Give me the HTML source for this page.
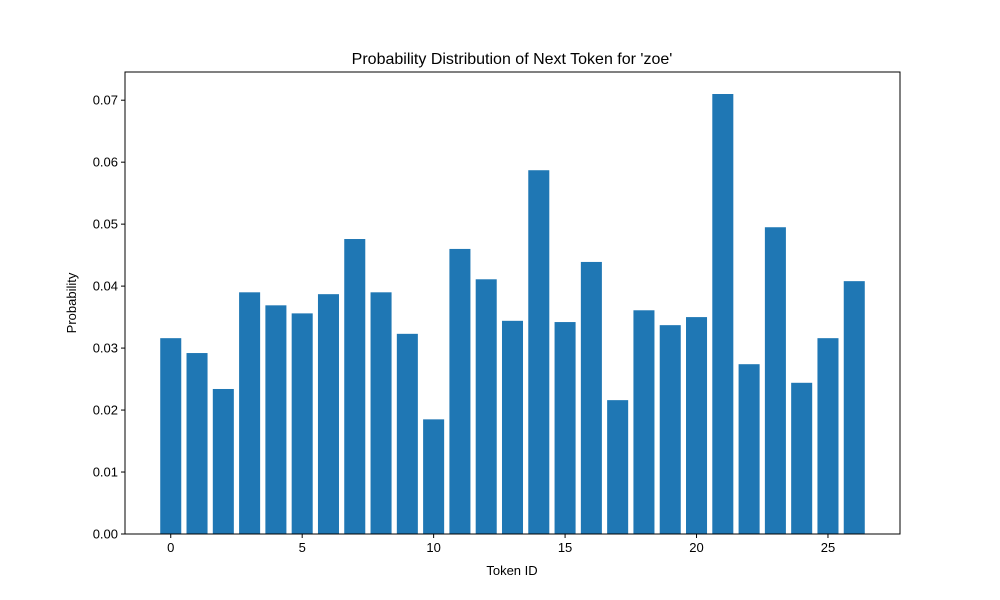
<!DOCTYPE html>
<html><head><meta charset="utf-8"><style>
body{margin:0;background:#fff;}
svg{display:block;font-family:"Liberation Sans","DejaVu Sans",sans-serif;}
</style></head><body>
<svg id="chart" width="1000" height="600">
<rect width="1000" height="600" fill="#fff"/>
<text x="512" y="64" text-anchor="middle" font-size="16">Probability Distribution of Next Token for 'zoe'</text>
<g id="bars"></g>
<rect x="125" y="72" width="775" height="462" fill="none" stroke="#000" stroke-width="1"/>
<g id="xticks"></g>
<g id="yticks"></g>
<text x="512" y="575" text-anchor="middle" font-size="13">Token ID</text>
<text transform="translate(76,303) rotate(-90)" text-anchor="middle" font-size="13">Probability</text>
</svg>
<script>
const tokenIds=[0,1,2,3,4,5,6,7,8,9,10,11,12,13,14,15,16,17,18,19,20,21,22,23,24,25,26];
const probabilities=[0.0316,0.0292,0.0234,0.0390,0.0369,0.0356,0.0387,0.0476,0.0390,0.0323,0.0185,0.0460,0.0411,0.0344,0.0587,0.0342,0.0439,0.0216,0.0361,0.0337,0.0350,0.0710,0.0274,0.0495,0.0244,0.0316,0.0408];
const xTickValues=[0,5,10,15,20,25];
const yTickValues=[0,0.01,0.02,0.03,0.04,0.05,0.06,0.07];
const yTickLabels=["0.00","0.01","0.02","0.03","0.04","0.05","0.06","0.07"];

const NS="http://www.w3.org/2000/svg";
const L=125,R=900,T=72,B=534;
const xmin=-0.4-0.05*(tokenIds.length-0.2), xmax=tokenIds.length-1+0.4+0.05*(tokenIds.length-0.2);
const ymax=Math.max(...probabilities)*1.05;
const xs=v=>L+(v-xmin)/(xmax-xmin)*(R-L);
const ys=v=>B-v/ymax*(B-T);
function mk(tag,attrs,parent){const e=document.createElementNS(NS,tag);for(const k in attrs)e.setAttribute(k,attrs[k]);parent.appendChild(e);return e;}
const bars=document.getElementById('bars');
tokenIds.forEach((t,i)=>{
  const x0=xs(t-0.4),x1=xs(t+0.4),y=ys(probabilities[i]);
  const r=mk('rect',{x:x0,y:y,width:x1-x0,height:B-y,fill:'#1f77b4'},bars);
  
  
});
const xg=document.getElementById('xticks');
xTickValues.forEach(v=>{
  const x=xs(v);
  const l=mk('line',{x1:x,x2:x,y1:B,y2:B+4,stroke:'#000'},xg);
  
  
  const t=mk('text',{x:x,y:B+18,'text-anchor':'middle','font-size':'13'},xg);
  t.textContent=v;
  
  
});
const yg=document.getElementById('yticks');
yTickValues.forEach((v,i)=>{
  const y=ys(v);
  const l=mk('line',{x1:L-4,x2:L,y1:y,y2:y,stroke:'#000'},yg);
  
  
  const t=mk('text',{x:L-7,y:y+4.5,'text-anchor':'end','font-size':'13'},yg);
  t.textContent=yTickLabels[i];
  
  
});
</script>
</body></html>
